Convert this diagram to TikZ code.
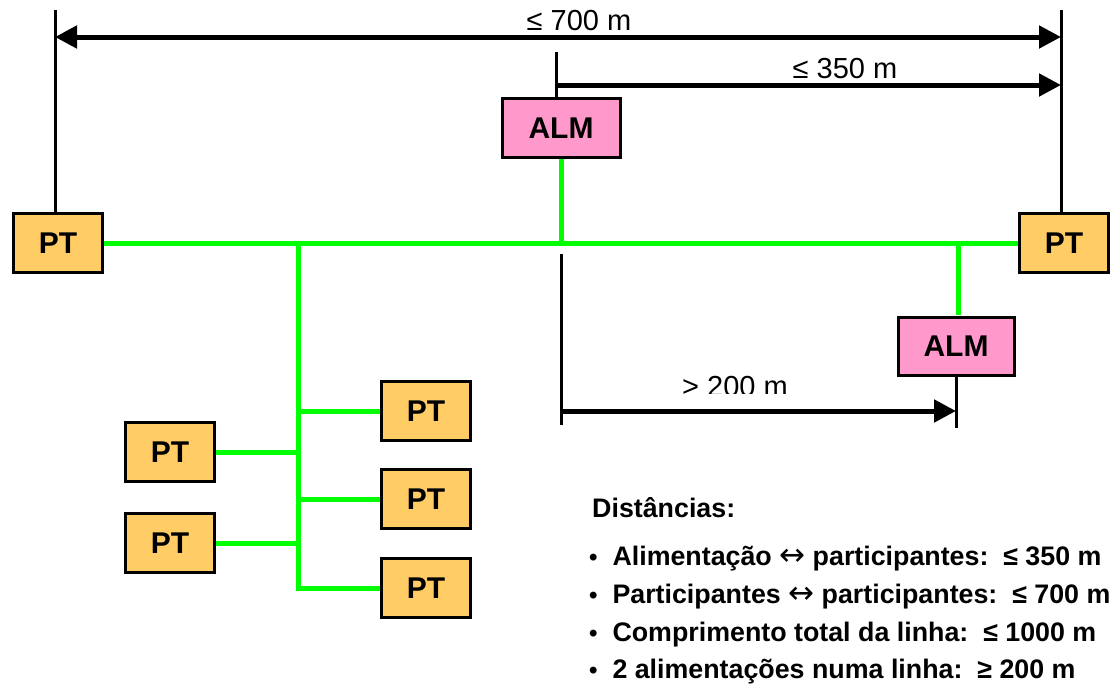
\documentclass[tikz,border=0pt]{standalone}
\usepackage{fontspec}
\setmainfont{Liberation Sans}
\newfontfamily\arrowfont{DejaVu Sans}
\usetikzlibrary{arrows.meta}
\definecolor{ptfill}{RGB}{255,204,102}
\definecolor{almfill}{RGB}{255,153,204}
\definecolor{busgreen}{RGB}{0,255,0}
\newcommand{\lr}{{\arrowfont\mdseries\fontsize{31}{31}\selectfont ↔}}
\newcommand{\bul}{{\bfseries\fontsize{24}{24}\selectfont •}}
\tikzset{
  ptbox/.style={draw=black, line width=3pt, fill=ptfill, minimum width=89pt,
    minimum height=59pt, inner sep=0pt, font=\bfseries\fontsize{30}{32}\selectfont},
  almbox/.style={draw=black, line width=3pt, fill=almfill, minimum width=118pt,
    minimum height=59pt, inner sep=0pt, font=\bfseries\fontsize{30}{32}\selectfont},
  bus/.style={draw=busgreen, line width=5pt},
  extline/.style={draw=black, line width=3pt},
  dimarrow/.style={draw=black, line width=5pt},
  tip/.style={-{Triangle[length=22pt,width=22pt]}},
  dimlabel/.style={font=\fontsize{29}{31}\selectfont, inner sep=0pt, anchor=base},
  listtext/.style={font=\bfseries\fontsize{26.8}{28}\selectfont, inner sep=0pt, anchor=base west},
}
\begin{document}
\begin{tikzpicture}[x=1pt, y=-1pt]
\useasboundingbox (0,0) rectangle (1114,686);

% stations
\node[ptbox] (pl) at (58,243) {PT};
\node[ptbox] (pr) at (1064,243) {PT};
\node[ptbox] (b1) at (426,411) {PT};
\node[ptbox] (b2) at (426,499) {PT};
\node[ptbox] (b3) at (426,588) {PT};
\node[ptbox] (l1) at (170,452) {PT};
\node[ptbox] (l2) at (170,543) {PT};
\node[almbox] (a1) at (561,128) {ALM};
\node[almbox, minimum width=116pt, minimum height=58pt] (a2) at (956,346) {ALM};

% bus line and branches
\coordinate (jt) at (298,243);
\draw[bus] (pl.east) -- (pr.west);
\draw[bus] (jt) -- (jt |- b3.west) -- (b3.west);
\draw[bus] (jt |- b1.west) -- (b1.west);
\draw[bus] (jt |- b2.west) -- (b2.west);
\draw[bus] (l1.east) -- (jt |- l1.east);
\draw[bus] (l2.east) -- (jt |- l2.east);
\draw[bus] (a1.south) -- (a1.south |- pl.east);
\coordinate (a2top) at (958,315);
\draw[bus] (a2top) -- (a2top |- pl.east);

% extension lines
\coordinate (xl) at (55,10);
\coordinate (xr) at (1061,10);
\coordinate (xa) at (556,52);
\coordinate (xb) at (561,254);
\coordinate (xbe) at (561,425);
\coordinate (xce) at (956,428);
\draw[extline] (xl) -- (xl |- pl.north);
\draw[extline] (xr) -- (xr |- pr.north);
\draw[extline] (xa) -- (xa |- a1.north);
\draw[extline] (xb) -- (xbe);
\draw[extline] (a2.south) -- (xce);

% dimension arrows
\coordinate (d1l) at (55,37);
\coordinate (d2l) at (556,85);
\coordinate (d3l) at (561,411);
\draw[dimarrow, {Triangle[length=22pt,width=22pt]}-{Triangle[length=22pt,width=22pt]}] (d1l) -- (d1l -| xr);
\draw[dimarrow, tip] (d2l) -- (d2l -| xr);
\draw[dimarrow, tip] (d3l) -- (d3l -| a2.south);

% dimension labels
\node[dimlabel] (t700) at (579,30) {≤ 700 m};
\node[dimlabel] (t350) at (845,78) {≤ 350 m};
\begin{scope}
  \clip (600,360) rectangle (820,393);
  \node[dimlabel] (t200) at (735,396) {> 200 m};
\end{scope}

% legend
\node[listtext] (hd) at (592,517) {Distâncias:};
\node[listtext] (r1) at (589,565) {\bul\ \ Alimentação \lr{} participantes:\ \ ≤ 350 m};
\node[listtext] (r2) at (589,603) {\bul\ \ Participantes \lr{} participantes:\ \ ≤ 700 m};
\node[listtext] (r3) at (589,641) {\bul\ \ Comprimento total da linha:\ \ ≤ 1000 m};
\node[listtext] (r4) at (589,678) {\bul\ \ 2 alimentações numa linha:\ \ ≥ 200 m};
\end{tikzpicture}
\end{document}
